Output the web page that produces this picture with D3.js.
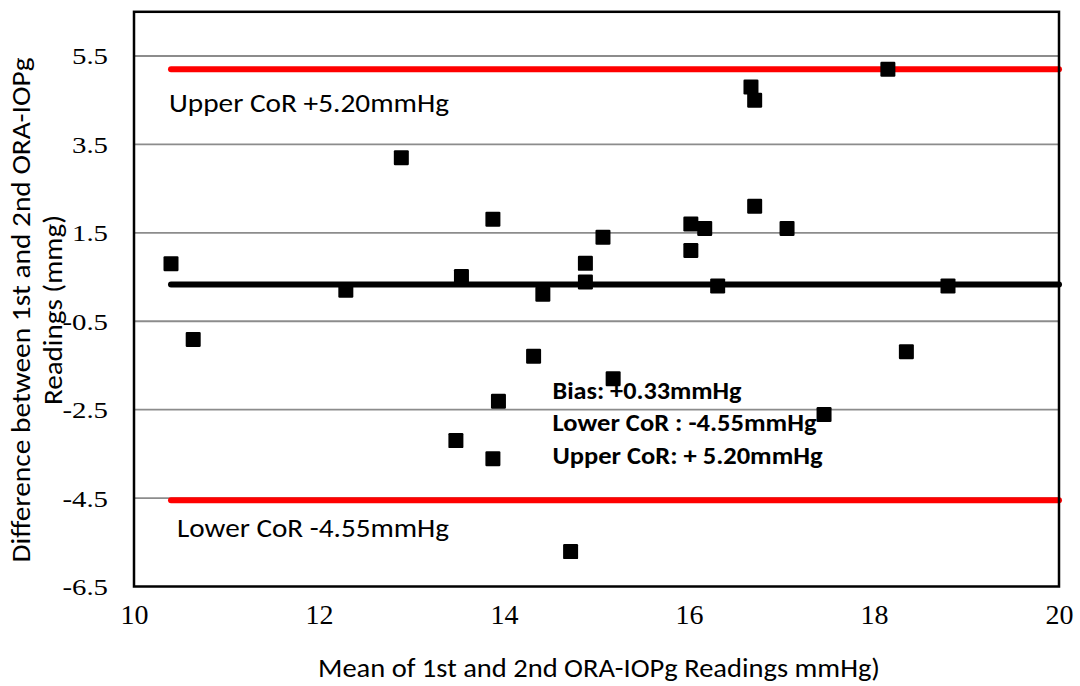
<!DOCTYPE html>
<html>
<head>
<meta charset="utf-8">
<script src="https://cdn.jsdelivr.net/npm/d3@7"></script>
<style>
  html, body { margin: 0; padding: 0; background: #fff; }
  svg { display: block; }
</style>
</head>
<body>
<svg id="chart" width="1080" height="686"></svg>
<script>
// ---- data ----
const meanValues = [10.40, 10.64, 12.29, 12.89, 13.48, 13.54, 13.88, 13.88, 13.94, 14.32,
                    14.42, 14.72, 14.88, 14.88, 15.07, 15.18, 16.02, 16.02, 16.17, 16.31,
                    16.67, 16.71, 16.71, 17.06, 17.46, 18.15, 18.35, 18.80];
const diffValues = [0.80, -0.91, 0.20, 3.20, -3.20, 0.51, 1.81, -3.61, -2.31, -1.29,
                    0.11, -5.71, 0.81, 0.39, 1.40, -1.80, 1.70, 1.10, 1.60, 0.30,
                    4.80, 4.50, 2.10, 1.60, -2.61, 5.20, -1.19, 0.30];
const bias = 0.33;
const lowerCoR = -4.55;
const upperCoR = 5.20;
const lineStart = 10.4;
const xTicks = [10, 12, 14, 16, 18, 20];
const yTicks = [-6.5, -4.5, -2.5, -0.5, 1.5, 3.5, 5.5];
const xTitle = "Mean of 1st and 2nd ORA-IOPg Readings mmHg)";
const yTitleLines = ["Difference between 1st and 2nd ORA-IOPg", "Readings (mmg)"];
const upperLabel = "Upper CoR +5.20mmHg";
const lowerLabel = "Lower CoR -4.55mmHg";
const summaryLines = ["Bias: +0.33mmHg", "Lower CoR : -4.55mmHg", "Upper CoR: + 5.20mmHg"];

// ---- layout ----
const svg = d3.select("#chart");
const L = 134, R = 1059, T = 11.8, B = 586.5;
const x = d3.scaleLinear().domain([10, 20]).range([L, R]);
const y = d3.scaleLinear().domain([-6.5, 6.5]).range([B, T]);
const serif = '"Liberation Serif", "Times New Roman", serif';
const sans = 'Carlito, "Open Sans", sans-serif';

// gridlines
svg.append("g").selectAll("line").data(yTicks.filter(v => v > -6.5))
  .join("line")
  .attr("x1", L).attr("x2", R)
  .attr("y1", d => y(d)).attr("y2", d => y(d))
  .attr("stroke", "#8c8c8c").attr("stroke-width", 1.8);

// y axis tick labels (slightly widened, as in the reference)
const yAxis = d3.axisLeft(y).tickValues(yTicks).tickSize(0).tickPadding(26).tickFormat(d => d.toFixed(1));
const gy = svg.append("g").attr("transform", `translate(${L},0)`).call(yAxis);
gy.attr("font-family", null);
gy.select(".domain").remove();
gy.selectAll("text").style("font-family", serif).attr("font-size", 24).attr("fill", "#000")
  .attr("dy", "0.33em")
  .each(function () {
    const w = this.getComputedTextLength();
    d3.select(this).attr("textLength", w * 1.2).attr("lengthAdjust", "spacingAndGlyphs");
  });

// x axis tick labels
const xAxis = d3.axisBottom(x).tickValues(xTicks).tickSize(0).tickPadding(18).tickFormat(d => String(d));
const gx = svg.append("g").attr("transform", `translate(0,${B})`).call(xAxis);
gx.attr("font-family", null);
gx.select(".domain").remove();
gx.selectAll("text").style("font-family", serif).attr("font-size", 28).attr("fill", "#000");

// reference lines
const refLines = [
  { v: upperCoR, color: "#ff0000" },
  { v: lowerCoR, color: "#ff0000" },
  { v: bias, color: "#000000" }
];
svg.append("g").selectAll("line").data(refLines).join("line")
  .attr("x1", x(lineStart)).attr("x2", R)
  .attr("y1", d => y(d.v)).attr("y2", d => y(d.v))
  .attr("stroke", d => d.color).attr("stroke-width", 6).attr("stroke-linecap", "round");

// plot border
svg.append("rect").attr("x", L).attr("y", T).attr("width", R - L).attr("height", B - T)
  .attr("fill", "none").attr("stroke", "#000").attr("stroke-width", 2.5);

// points
const pts = meanValues.map((m, i) => ({ m, d: diffValues[i] }));
const sz = 15;
svg.append("g").selectAll("rect").data(pts).join("rect")
  .attr("x", p => x(p.m) - sz / 2).attr("y", p => y(p.d) - sz / 2)
  .attr("width", sz).attr("height", sz).attr("rx", 1.2)
  .attr("fill", "#000");

// line labels
svg.append("text").attr("x", 169).attr("y", 111.7)
  .style("font-family", sans).attr("font-size", 27).attr("fill", "#000")
  .attr("textLength", 280).attr("lengthAdjust", "spacingAndGlyphs")
  .text(upperLabel);
svg.append("text").attr("x", 177).attr("y", 536.7)
  .style("font-family", sans).attr("font-size", 27).attr("fill", "#000")
  .attr("textLength", 272).attr("lengthAdjust", "spacingAndGlyphs")
  .text(lowerLabel);

// summary text
const sumLens = [189, 264, 270];
const sumY = [398.7, 430.5, 463.5];
svg.append("g").selectAll("text").data(summaryLines).join("text")
  .attr("x", 552.5).attr("y", (d, i) => sumY[i])
  .style("font-family", sans).attr("font-weight", "bold").attr("font-size", 24.5).attr("fill", "#000")
  .attr("textLength", (d, i) => sumLens[i]).attr("lengthAdjust", "spacingAndGlyphs")
  .text(d => d);

// x title
svg.append("text").attr("x", 599).attr("y", 676.5).attr("text-anchor", "middle")
  .style("font-family", sans).attr("font-size", 27).attr("fill", "#000")
  .attr("textLength", 562).attr("lengthAdjust", "spacingAndGlyphs")
  .text(xTitle);

// y title (two lines, rotated)
const yTitleX = [30, 62];
const yTitleLen = [505, 190];
yTitleLines.forEach((t, i) => {
  svg.append("text")
    .attr("transform", `translate(${yTitleX[i]},310) rotate(-90)`)
    .attr("text-anchor", "middle")
    .style("font-family", sans).attr("font-size", 27).attr("fill", "#000")
    .attr("textLength", yTitleLen[i]).attr("lengthAdjust", "spacingAndGlyphs")
    .text(t);
});
</script>
</body>
</html>
